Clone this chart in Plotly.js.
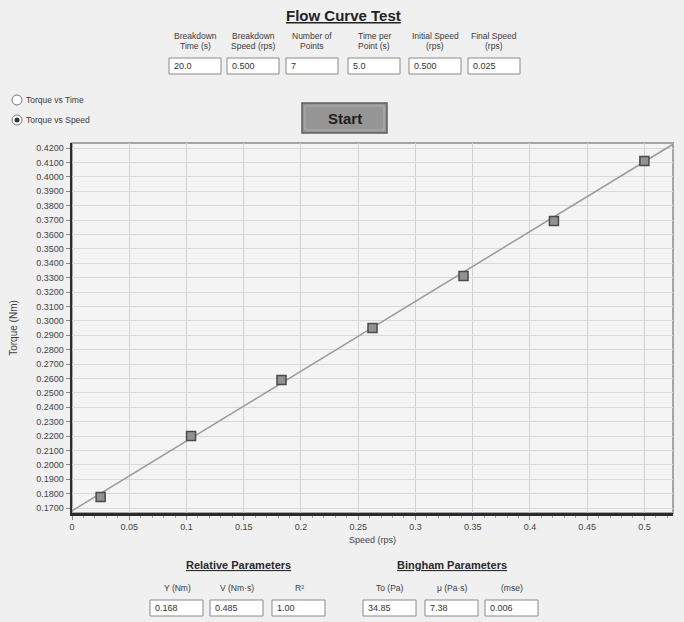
<!DOCTYPE html>
<html><head><meta charset="utf-8">
<script src="https://cdn.plot.ly/plotly-3.0.1.min.js"></script>
<style>html,body{margin:0;padding:0;background:#f0f0f0;}</style>
</head><body><div id="chart" style="width:684px;height:622px;"></div>
<script>
// ---- data ----
const speed = [0.025, 0.104, 0.183, 0.2625, 0.342, 0.421, 0.5];
const torque = [0.1776, 0.2200, 0.2589, 0.2950, 0.3311, 0.3693, 0.4110];
const fitSpeed = [0, 0.525];
const fitTorque = [0.168, 0.4226];
const inputLabels = [["Breakdown","Time (s)"],["Breakdown","Speed (rps)"],["Number of","Points"],["Time per","Point (s)"],["Initial Speed","(rps)"],["Final Speed","(rps)"]];
const inputValues = ["20.0","0.500","7","5.0","0.500","0.025"];
const radioLabels = ["Torque vs Time","Torque vs Speed"];
const resultLabels = ["Y (Nm)","V (Nm·s)","R²","To (Pa)","μ (Pa·s)","(mse)"];
const resultValues = ["0.168","0.485","1.00","34.85","7.38","0.006"];
const xTickVals = [0,0.05,0.1,0.15,0.2,0.25,0.3,0.35,0.4,0.45,0.5];
const xTickText = ["0","0.05","0.1","0.15","0.2","0.25","0.3","0.35","0.4","0.45","0.5"];

// ---- layout helpers (pixel -> paper) ----
const W=684,H=622,L=72,R=11,T=143,B=109;
const pw=W-L-R, ph=H-T-B;
const px=x=>(x-L)/pw, py=y=>(H-B-y)/ph;
const FONT="Liberation Sans, Arial, sans-serif";
const ann=[], shp=[];
function text(x,y,t,size,opts){
  ann.push(Object.assign({xref:'paper',yref:'paper',x:px(x),y:py(y),text:t,showarrow:false,
    font:{family:FONT,size:size,color:'#3a3a3a'},xanchor:'center',yanchor:'middle'},opts||{}));
}
function box(x0,y0,x1,y1,val){
  shp.push({type:'rect',xref:'paper',yref:'paper',x0:px(x0),x1:px(x1),y0:py(y0),y1:py(y1),
    fillcolor:'#ffffff',line:{color:'#8a8a8a',width:1},layer:'above'});
  text(x0+3,(y0+y1)/2,val,9,{xanchor:'left',font:{family:FONT,size:9,color:'#333'}});
}
// title
text(343,16,'<b><span style="text-decoration:underline">Flow Curve Test</span></b>',15,{font:{family:FONT,size:15,color:'#222'}});
// inputs
const inCenters=[195,253,312,374,435,494];
inCenters.forEach((c,i)=>{
  text(c,36,inputLabels[i][0],8.5);
  text(c,46,inputLabels[i][1],8.5);
  box(c-26,58,c+26,74,inputValues[i]);
});
// radios
[100,120].forEach((y,i)=>{
  shp.push({type:'circle',xref:'paper',yref:'paper',x0:px(12),x1:px(22),y0:py(y-5),y1:py(y+5),
    fillcolor:'#ffffff',line:{color:'#777',width:1}});
  if(i===1) shp.push({type:'circle',xref:'paper',yref:'paper',x0:px(14.5),x1:px(19.5),y0:py(y-2.5),y1:py(y+2.5),
    fillcolor:'#333',line:{color:'#333',width:0}});
  text(24,y,radioLabels[i],8.5,{xanchor:'left'});
});
// start button
shp.push({type:'rect',xref:'paper',yref:'paper',x0:px(302),x1:px(387),y0:py(103),y1:py(133),
  fillcolor:'#959595',line:{color:'#5e5e5e',width:1.5}});
shp.push({type:'rect',xref:'paper',yref:'paper',x0:px(305),x1:px(384),y0:py(106),y1:py(130),
  fillcolor:'rgba(0,0,0,0)',line:{color:'#b0b0b0',width:1}});
text(344.5,118,'<b>Start</b>',15,{font:{family:FONT,size:15,color:'#1e1e1e'}});
// bottom sections
text(238,565,'<b><span style="text-decoration:underline">Relative Parameters</span></b>',11,{font:{family:FONT,size:11,color:'#2a2a2a'}});
text(452,565,'<b><span style="text-decoration:underline">Bingham Parameters</span></b>',11,{font:{family:FONT,size:11,color:'#2a2a2a'}});
const resCenters=[177,237,299,390,452,512];
resCenters.forEach((c,i)=>{
  text(c,588,resultLabels[i],8.5);
  box(c-27,600,c+26,616,resultValues[i]);
});
// plot frame (top/right light)
shp.push({type:'rect',xref:'paper',yref:'paper',x0:0,x1:1,y0:0,y1:1,fillcolor:'rgba(0,0,0,0)',
  line:{color:'#a6a6a6',width:2},layer:'below'});

const traces=[
  {x:fitSpeed,y:fitTorque,mode:'lines',line:{color:'#9a9a9a',width:1.5},hoverinfo:'skip'},
  {x:speed,y:torque,mode:'markers',marker:{symbol:'square',size:9,color:'#929292',line:{color:'#4a4a4a',width:1.5}}}
];
const layout={
  width:W,height:H,margin:{l:L,r:R,t:T,b:B,pad:0},
  paper_bgcolor:'#f0f0f0',plot_bgcolor:'#f4f4f4',showlegend:false,
  font:{family:FONT,size:9,color:'#444'},
  xaxis:{range:[0,0.525],tickvals:xTickVals,ticktext:xTickText,showgrid:true,gridcolor:'#d2d2d2',gridwidth:1,
    zeroline:false,showline:true,linecolor:'#2b2b2b',linewidth:2.5,ticks:'outside',ticklen:4,tickcolor:'#888',
    minor:{dtick:0.01,ticks:'outside',ticklen:2,tickcolor:'#999',showgrid:false},
    tickfont:{family:FONT,size:9,color:'#444'},
    title:{text:'Speed (rps)',font:{family:FONT,size:9,color:'#444'},standoff:6}},
  yaxis:{range:[0.16653,0.42347],dtick:0.01,tick0:0.17,tickformat:'.4f',showgrid:true,gridcolor:'#d9d9d9',gridwidth:1,
    zeroline:false,showline:true,linecolor:'#2b2b2b',linewidth:2.5,ticks:'outside',ticklen:4,tickcolor:'#888',
    tickfont:{family:FONT,size:9,color:'#444'},
    title:{text:'Torque (Nm)',font:{family:FONT,size:10,color:'#444'},standoff:17}},
  annotations:ann,shapes:shp
};
Plotly.newPlot('chart',traces,layout,{displayModeBar:false,staticPlot:true});
</script></body></html>
